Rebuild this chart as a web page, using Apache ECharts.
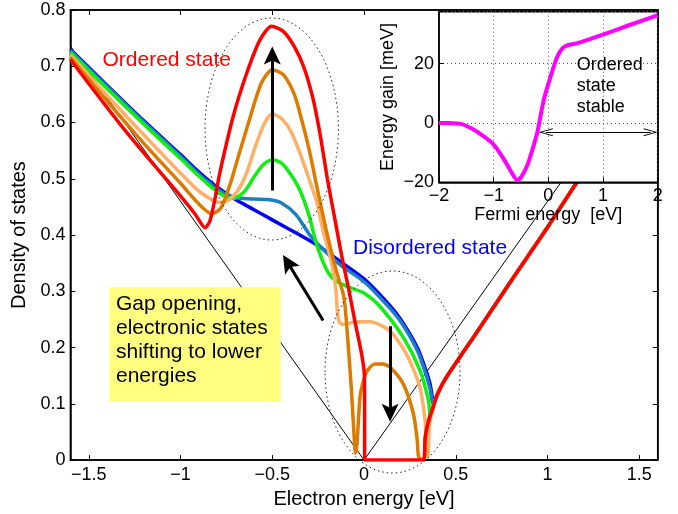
<!DOCTYPE html>
<html><head><meta charset="utf-8">
<script src="https://cdn.jsdelivr.net/npm/echarts@6/dist/echarts.min.js"></script>
<style>html,body{margin:0;padding:0;background:#fff}#c{width:678px;height:514px}</style>
</head><body><div id="c"></div>
<script>
// ---- data ----
const xTicks = [-1.5, -1, -0.5, 0, 0.5, 1, 1.5];
const rightBranch = [[0.4,0.117],[0.43,0.137],[0.47,0.158],[0.53,0.187],[0.6,0.22],[0.8,0.318],[1.0,0.414],[1.16,0.494],[1.6,0.70]];
const disordered = [[-1.6,0.73],[-1.4,0.666],[-1.2,0.603],[-1.0,0.543],[-0.9,0.512],[-0.8,0.485],[-0.7,0.463],[-0.6,0.445],[-0.5,0.427],[-0.35,0.4],[-0.25,0.381],[-0.13,0.353],[0.0,0.322],[0.14,0.275],[0.2,0.25],[0.29,0.2],[0.34,0.157],[0.36,0.135],[0.378,0.106]];
const stage1 = [[-1.6,0.728],[-1.4,0.664],[-1.2,0.601],[-1.0,0.54],[-0.9,0.508],[-0.82,0.487],[-0.75,0.472],[-0.68,0.466],[-0.6,0.464],[-0.52,0.463],[-0.45,0.457],[-0.37,0.436],[-0.3,0.402],[-0.25,0.383],[-0.13,0.347],[0.0,0.317],[0.124,0.276],[0.2,0.246],[0.29,0.195],[0.34,0.15],[0.36,0.126],[0.376,0.1]];
const stage2 = [[-1.6,0.725],[-1.4,0.66],[-1.2,0.597],[-1.0,0.536],[-0.9,0.505],[-0.82,0.482],[-0.76,0.469],[-0.71,0.465],[-0.65,0.478],[-0.6,0.503],[-0.55,0.525],[-0.5,0.534],[-0.45,0.528],[-0.4,0.508],[-0.35,0.48],[-0.3,0.435],[-0.258,0.383],[-0.2,0.336],[-0.15,0.318],[-0.08,0.307],[0.0,0.297],[0.087,0.273],[0.214,0.218],[0.305,0.159],[0.351,0.106],[0.362,0.075],[0.378,0.096]];
const stage3 = [[-1.6,0.72],[-1.4,0.648],[-1.2,0.578],[-1.0,0.51],[-0.9,0.478],[-0.83,0.463],[-0.79,0.458],[-0.74,0.462],[-0.69,0.478],[-0.64,0.51],[-0.59,0.56],[-0.54,0.6],[-0.5,0.615],[-0.45,0.607],[-0.4,0.585],[-0.358,0.553],[-0.3,0.5],[-0.258,0.459],[-0.222,0.406],[-0.185,0.362],[-0.165,0.33],[-0.152,0.298],[-0.145,0.262],[-0.135,0.246],[-0.115,0.241],[-0.04,0.246],[0.033,0.246],[0.142,0.229],[0.232,0.188],[0.305,0.129],[0.332,0.071],[0.342,0.03],[0.348,0.006],[0.356,0.06],[0.378,0.096]];
const stage4 = [[-1.6,0.716],[-1.4,0.638],[-1.2,0.563],[-1.0,0.492],[-0.9,0.455],[-0.83,0.438],[-0.78,0.448],[-0.73,0.49],[-0.68,0.545],[-0.62,0.61],[-0.56,0.67],[-0.5,0.694],[-0.44,0.685],[-0.38,0.65],[-0.34,0.605],[-0.3,0.553],[-0.25,0.475],[-0.2,0.4],[-0.15,0.335],[-0.11,0.29],[-0.09,0.22],[-0.068,0.12],[-0.052,0.03],[-0.047,0.012],[-0.038,0.03],[-0.022,0.112],[0.0,0.145],[0.02,0.16],[0.06,0.171],[0.1,0.171],[0.142,0.165],[0.214,0.135],[0.269,0.082],[0.29,0.035],[0.298,0.005],[0.325,0.0],[0.333,0.04],[0.35,0.068],[0.378,0.096]];
const ordered = [[-1.6,0.712],[-1.3,0.585],[-1.02,0.477],[-0.92,0.437],[-0.866,0.413],[-0.84,0.425],[-0.815,0.46],[-0.785,0.512],[-0.712,0.612],[-0.639,0.688],[-0.567,0.747],[-0.503,0.771],[-0.44,0.762],[-0.38,0.735],[-0.33,0.7],[-0.28,0.645],[-0.24,0.58],[-0.2,0.5],[-0.16,0.43],[-0.12,0.36],[-0.085,0.306],[-0.05,0.247],[-0.013,0.188],[0.002,0.15],[0.004,0.0],[0.325,0.0],[0.333,0.04],[0.35,0.068],[0.378,0.096]];
const freeDos = [[-1.6,0.736],[0,0],[1.6,0.736]];
const arrowUp = [[-0.5,0.479],[-0.5,0.719]];
const arrowDiag = [[-0.223,0.248],[-0.416,0.351]];
const arrowDown = [[0.142,0.238],[0.142,0.084]];
const gain = [[-2,0],[-1.8,-0.05],[-1.6,-0.3],[-1.4,-1.9],[-1.2,-4.3],[-1.0,-7.3],[-0.85,-11.2],[-0.75,-14.2],[-0.65,-17.4],[-0.57,-19.2],[-0.5,-18.3],[-0.39,-14.5],[-0.3,-9.5],[-0.205,-3.4],[-0.083,7.8],[0.04,15.6],[0.163,22.3],[0.25,25],[0.32,26],[0.53,26.9],[1.0,29.8],[1.5,33.1],[2.0,36.3]];
const stableArrow = [[-0.046,-3.1],[1.871,-3.1]];

// ---- chart ----
const FONT = '"Liberation Sans", Arial, Helvetica, sans-serif';
const minus = v => String(v).replace('-', '\u2212');
const arrowHead = 'path://M9,0 L17.5,18 L9,14 L0.5,18 Z M0,0 L0,0 M18,0 L18,0';
const openHead = 'path://M7,0 L11,14 L10,14 L7,3 L4,14 L3,14 Z M0,0 L0,0 M14,0 L14,0';
const chart = echarts.init(document.getElementById('c'), null, {renderer: 'canvas'});
const curves = [
  {name: 'Disordered', data: disordered, color: '#0000ff'},
  {name: 'Stage 1', data: stage1, color: '#1b7fc4'},
  {name: 'Stage 2', data: stage2, color: '#11ee11'},
  {name: 'Stage 3', data: stage3, color: '#ffb066'},
  {name: 'Stage 4', data: stage4, color: '#dd7a00'},
  {name: 'Ordered', data: ordered, color: '#ff0000'}
];
const black = '#000';
const tickStyle = {show: true, inside: true, length: 5, lineStyle: {color: black, width: 1}};
const axisLine = {show: true, onZero: false, lineStyle: {color: black, width: 1.5}};
const labelStyle = {fontFamily: FONT, fontSize: 18, color: black};

const series = [
  {type: 'line', name: 'free', data: freeDos, xAxisIndex: 0, yAxisIndex: 0, symbol: 'none',
   lineStyle: {color: black, width: 1}, z: 2, animation: false}
].concat(curves.map(c => ({
  type: 'line', name: c.name, data: c.data.concat(rightBranch), xAxisIndex: 0, yAxisIndex: 0,
  symbol: 'none', smooth: 0.25, lineStyle: {color: c.color, width: 3.5}, z: 2, animation: false
}))).concat([
  {type: 'lines', coordinateSystem: 'cartesian2d', xAxisIndex: 0, yAxisIndex: 0, z: 4,
   symbol: ['none', arrowHead], symbolSize: 18, lineStyle: {color: black, width: 3, opacity: 1, curveness: 0},
   data: [arrowUp, arrowDiag, arrowDown].map(a => ({coords: a})), animation: false},
  {type: 'line', name: 'gain', data: gain, xAxisIndex: 2, yAxisIndex: 2, symbol: 'none', smooth: 0.3,
   lineStyle: {color: '#ff00ff', width: 4}, z: 12, animation: false},
  {type: 'lines', coordinateSystem: 'cartesian2d', xAxisIndex: 2, yAxisIndex: 2, z: 13,
   symbol: [openHead, openHead], symbolSize: 14, lineStyle: {color: black, width: 1, opacity: 1},
   data: [{coords: stableArrow}], animation: false}
]);

chart.setOption({
  animation: false,
  textStyle: {fontFamily: FONT},
  grid: [
    {left: 70.4, right: 20.3, top: 10, bottom: 50.7, show: true, borderColor: black, borderWidth: 1.5, backgroundColor: 'transparent', z: 0},
    {left: 439, top: 11.7, width: 218.7, height: 170.6, show: true, borderColor: black, borderWidth: 1.5, backgroundColor: '#ffffff', z: 10}
  ],
  xAxis: [
    {type: 'value', gridIndex: 0, position: 'bottom', min: -1.6, max: 1.6, axisLine,
     axisTick: Object.assign({customValues: xTicks}, tickStyle),
     axisLabel: Object.assign({customValues: xTicks, margin: 6, formatter: minus}, labelStyle),
     splitLine: {show: false},
     name: 'Electron energy [eV]', nameLocation: 'middle', nameGap: 20,
     nameTextStyle: {fontFamily: FONT, fontSize: 20, color: black}},
    {type: 'value', gridIndex: 0, position: 'top', min: -1.6, max: 1.6, axisLine,
     axisTick: Object.assign({customValues: xTicks}, tickStyle),
     axisLabel: {show: false}, splitLine: {show: false}},
    {type: 'value', gridIndex: 1, position: 'bottom', min: -2, max: 2, interval: 1, z: 11, axisLine,
     axisTick: tickStyle,
     axisLabel: Object.assign({margin: 5, formatter: minus}, labelStyle),
     splitLine: {show: true, lineStyle: {color: '#555', width: 1, type: [1, 3]}},
     name: 'Fermi energy  [eV]', nameLocation: 'middle', nameGap: 21,
     nameTextStyle: {fontFamily: FONT, fontSize: 18, color: black}}
  ],
  yAxis: [
    {type: 'value', gridIndex: 0, position: 'left', min: 0, max: 0.8, interval: 0.1, axisLine,
     axisTick: tickStyle,
     axisLabel: Object.assign({margin: 5, formatter: v => minus(+v.toFixed(2))}, labelStyle),
     splitLine: {show: false},
     name: 'Density of states', nameLocation: 'middle', nameGap: 34,
     nameTextStyle: {fontFamily: FONT, fontSize: 20, color: black}},
    {type: 'value', gridIndex: 0, position: 'right', min: 0, max: 0.8, interval: 0.1, axisLine,
     axisTick: tickStyle, axisLabel: {show: false}, splitLine: {show: false}},
    {type: 'value', gridIndex: 1, position: 'left', min: -20, max: 37.5, interval: 20, z: 11, axisLine,
     axisTick: tickStyle,
     axisLabel: Object.assign({margin: 5, showMaxLabel: false, formatter: minus}, labelStyle),
     splitLine: {show: true, lineStyle: {color: '#555', width: 1, type: [1, 3]}},
     name: 'Energy gain [meV]', nameLocation: 'middle', nameGap: 42,
     nameTextStyle: {fontFamily: FONT, fontSize: 18, color: black}}
  ],
  series,
  graphic: [
    {type: 'ellipse', z: 5, silent: true, shape: {cx: 271.7, cy: 129, rx: 66.7, ry: 111},
     style: {fill: 'none', stroke: '#222', lineWidth: 1, lineDash: [1.5, 3]}},
    {type: 'ellipse', z: 5, silent: true, shape: {cx: 392.5, cy: 372, rx: 67.5, ry: 101},
     style: {fill: 'none', stroke: '#222', lineWidth: 1, lineDash: [1.5, 3]}},
    {type: 'rect', z: 6, silent: true, shape: {x: 109.3, y: 287.3, width: 171.4, height: 114.4},
     style: {fill: '#ffff80', stroke: 'none'}},
    {type: 'text', z: 7, silent: true, x: 116, y: 292,
     style: {text: 'Gap opening,\nelectronic states\nshifting to lower\nenergies', font: '21px ' + FONT,
             fill: black, lineHeight: 24.2, textAlign: 'left', textVerticalAlign: 'top'}},
    {type: 'text', z: 7, silent: true, x: 166.7, y: 60,
     style: {text: 'Ordered state', font: '21px ' + FONT, fill: '#ff0000', textAlign: 'center', textVerticalAlign: 'middle'}},
    {type: 'text', z: 7, silent: true, x: 353, y: 248,
     style: {text: 'Disordered state', font: '21px ' + FONT, fill: '#0000ff', textAlign: 'left', textVerticalAlign: 'middle'}},
    {type: 'text', z: 20, silent: true, x: 576.7, y: 54.5,
     style: {text: 'Ordered\nstate\nstable', font: '18px ' + FONT, fill: black, lineHeight: 21, textAlign: 'left', textVerticalAlign: 'top'}}
  ]
});
</script>
</body></html>
